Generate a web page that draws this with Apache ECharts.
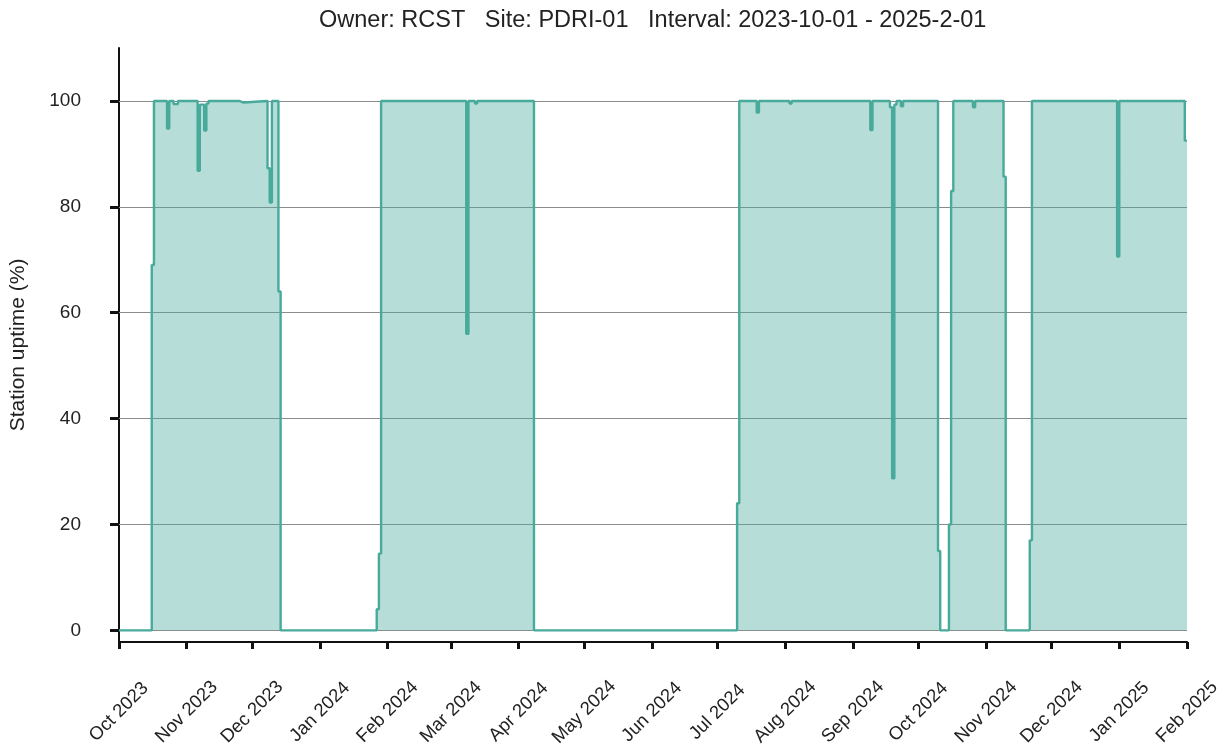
<!DOCTYPE html>
<html>
<head>
<meta charset="utf-8">
<title>Station uptime</title>
<script src="https://cdn.jsdelivr.net/npm/echarts@6/dist/echarts.min.js"></script>
<style>
  html, body { margin: 0; padding: 0; background: #ffffff; }
  #chart { width: 1228px; height: 753px; }
</style>
</head>
<body>
<div id="chart"></div>
<script>
// Daily uptime, stored as change points: each value holds until the next date.
const stepDates = [
  '2023-10-01', '2023-10-16', '2023-10-17', '2023-10-23', '2023-10-24',
  '2023-10-26', '2023-10-28', '2023-11-06', '2023-11-07', '2023-11-09',
  '2023-11-10', '2023-11-11', '2023-11-25', '2023-11-27', '2023-12-08',
  '2023-12-09', '2023-12-10', '2023-12-13', '2023-12-14',
  '2024-01-27', '2024-01-28', '2024-01-29', '2024-03-08', '2024-03-09',
  '2024-03-12', '2024-03-13', '2024-04-08',
  '2024-07-10', '2024-07-11', '2024-07-19', '2024-07-20', '2024-08-03',
  '2024-08-04', '2024-09-09', '2024-09-10', '2024-09-18', '2024-09-19',
  '2024-09-20', '2024-09-21', '2024-09-23', '2024-09-24', '2024-10-10',
  '2024-10-11', '2024-10-15', '2024-10-16', '2024-10-17', '2024-10-26',
  '2024-10-27', '2024-11-09', '2024-11-10', '2024-11-21', '2024-11-22',
  '2024-12-31', '2025-01-01', '2025-01-31', '2025-02-01'
];
const uptimeValues = [
  0, 69, 100, 94.8, 100,
  99.4, 100, 86.8, 99.3, 94.4,
  99.5, 100, 99.7, 100, 87.3,
  80.8, 100, 64, 0,
  4, 14.5, 100, 56, 100,
  99.5, 100, 0,
  24, 100, 97.8, 100, 99.5,
  100, 94.5, 100, 98.8, 28.7,
  99.3, 100, 99, 100, 15,
  0, 20, 83, 100, 98.8,
  100, 85.7, 0, 17, 100,
  70.6, 100, 92.5, 92.5
];

// Axis ticks
const monthTicks = [
  '2023-10-01', '2023-11-01', '2023-12-01', '2024-01-01', '2024-02-01',
  '2024-03-01', '2024-04-01', '2024-05-01', '2024-06-01', '2024-07-01',
  '2024-08-01', '2024-09-01', '2024-10-01', '2024-11-01', '2024-12-01',
  '2025-01-01', '2025-02-01'
];
const yTicks = [0, 20, 40, 60, 80, 100];
const monthNames = ['Jan', 'Feb', 'Mar', 'Apr', 'May', 'Jun',
                    'Jul', 'Aug', 'Sep', 'Oct', 'Nov', 'Dec'];

const titleText = 'Owner: RCST   Site: PDRI-01   Interval: 2023-10-01 - 2025-2-01';
const lineColor = '#48aa9b';
const fontFamily = '"Liberation Sans", Arial, Helvetica, sans-serif';

// dates -> UTC milliseconds for a numeric time axis
function toTime(s) {
  const p = s.split('-').map(Number);
  return Date.UTC(p[0], p[1] - 1, p[2]);
}

const seriesData = stepDates.map((d, i) => [toTime(d), uptimeValues[i]]);
const monthTickTimes = monthTicks.map(toTime);

const chart = echarts.init(document.getElementById('chart'), null, { renderer: 'canvas' });

chart.setOption({
  animation: false,
  backgroundColor: '#ffffff',
  textStyle: { fontFamily: fontFamily },
  title: {
    text: titleText,
    left: 314,
    top: 4,
    textStyle: { fontSize: 23.5, fontWeight: 'normal', color: '#222222', fontFamily: fontFamily }
  },
  grid: { left: 117, right: 41, top: 48, bottom: 111, containLabel: false },
  xAxis: {
    type: 'value',
    min: monthTickTimes[0],
    max: monthTickTimes[monthTickTimes.length - 1],
    axisLine: { show: true, onZero: false, lineStyle: { color: '#111111', width: 2 } },
    axisTick: {
      show: true, inside: false, length: 7, customValues: monthTickTimes,
      lineStyle: { color: '#111111', width: 3 }
    },
    axisLabel: {
      customValues: monthTickTimes,
      rotate: 45,
      align: 'center',
      verticalAlign: 'middle',
      margin: 70,
      fontSize: 18.5,
      color: '#222222',
      fontFamily: fontFamily,
      hideOverlap: false,
      formatter: function (value) {
        const d = new Date(value);
        return monthNames[d.getUTCMonth()] + ' ' + d.getUTCFullYear();
      }
    },
    splitLine: { show: false }
  },
  yAxis: {
    type: 'value',
    min: -2.2,
    max: 110,
    name: 'Station uptime (%)',
    nameLocation: 'middle',
    nameGap: 90,
    nameTextStyle: { fontSize: 21, color: '#222222', fontFamily: fontFamily },
    axisLine: { show: true, lineStyle: { color: '#111111', width: 2 } },
    axisTick: {
      show: true, inside: false, length: 9, customValues: yTicks,
      lineStyle: { color: '#111111', width: 3 }
    },
    axisLabel: {
      customValues: yTicks,
      margin: 38,
      fontSize: 19,
      color: '#222222',
      fontFamily: fontFamily
    },
    splitLine: { show: false }
  },
  series: [
    {
      // horizontal gridlines, kept beneath the uptime area
      name: 'grid',
      type: 'line',
      data: [],
      silent: true,
      z: 1,
      markLine: {
        silent: true,
        z: 1,
        symbol: 'none',
        animation: false,
        label: { show: false },
        lineStyle: { color: '#8c8c8c', width: 1, type: 'solid' },
        data: yTicks.map(v => ({ yAxis: v }))
      }
    },
    {
      name: 'Station uptime',
      type: 'line',
      step: 'end',
      z: 3,
      data: seriesData,
      showSymbol: false,
      symbol: 'none',
      lineStyle: { color: lineColor, width: 2.4 },
      itemStyle: { color: lineColor },
      areaStyle: { color: lineColor, opacity: 0.4, origin: 'auto' }
    }
  ]
});
</script>
</body>
</html>
